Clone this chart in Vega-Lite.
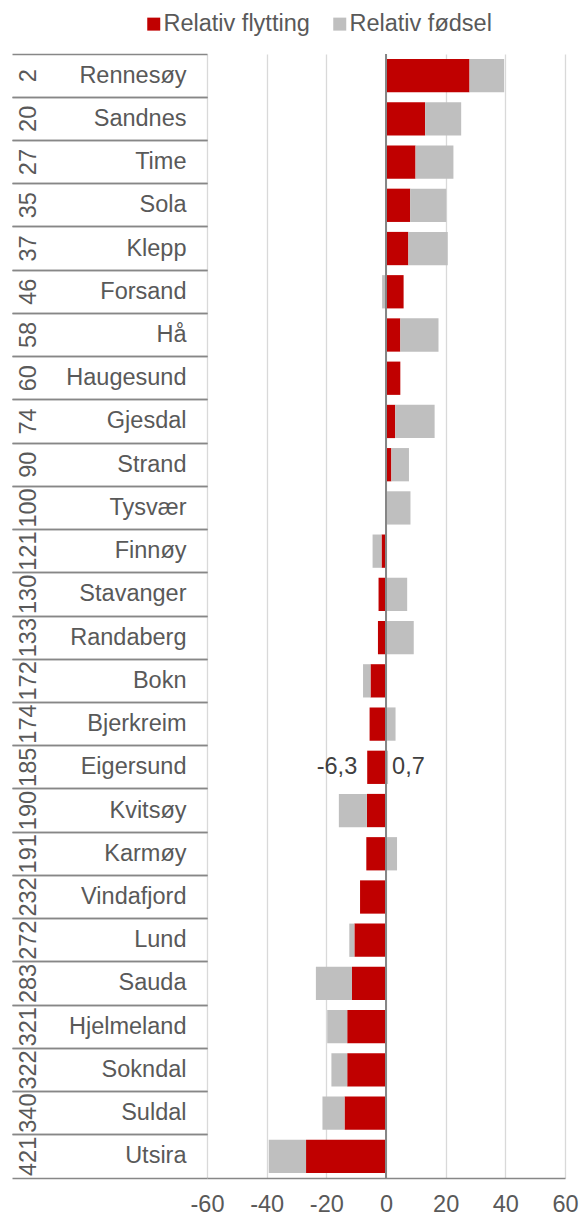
{
  "$schema": "https://vega.github.io/schema/vega-lite/v6.json",
  "autosize": {"type": "none"},
  "width": 358,
  "height": 1124,
  "padding": {"left": 207, "top": 54, "right": 14, "bottom": 38},
  "background": "white",
  "config": {
    "view": {"stroke": null},
    "font": "Liberation Sans",
    "locale": {"number": {"decimal": ",", "thousands": " ", "grouping": [3], "currency": ["", " kr"], "minus": "-"}}
  },
  "data": {"values": [
    {"rank": 2, "name": "Rennesøy", "serie": "Relativ flytting", "value": 28.0},
    {"rank": 2, "name": "Rennesøy", "serie": "Relativ fødsel", "value": 11.6},
    {"rank": 20, "name": "Sandnes", "serie": "Relativ flytting", "value": 13.1},
    {"rank": 20, "name": "Sandnes", "serie": "Relativ fødsel", "value": 12.1},
    {"rank": 27, "name": "Time", "serie": "Relativ flytting", "value": 9.9},
    {"rank": 27, "name": "Time", "serie": "Relativ fødsel", "value": 12.7},
    {"rank": 35, "name": "Sola", "serie": "Relativ flytting", "value": 8.1},
    {"rank": 35, "name": "Sola", "serie": "Relativ fødsel", "value": 12.1},
    {"rank": 37, "name": "Klepp", "serie": "Relativ flytting", "value": 7.5},
    {"rank": 37, "name": "Klepp", "serie": "Relativ fødsel", "value": 13.2},
    {"rank": 46, "name": "Forsand", "serie": "Relativ flytting", "value": 5.9},
    {"rank": 46, "name": "Forsand", "serie": "Relativ fødsel", "value": -1.3},
    {"rank": 58, "name": "Hå", "serie": "Relativ flytting", "value": 4.8},
    {"rank": 58, "name": "Hå", "serie": "Relativ fødsel", "value": 12.8},
    {"rank": 60, "name": "Haugesund", "serie": "Relativ flytting", "value": 4.8},
    {"rank": 60, "name": "Haugesund", "serie": "Relativ fødsel", "value": 0.0},
    {"rank": 74, "name": "Gjesdal", "serie": "Relativ flytting", "value": 3.1},
    {"rank": 74, "name": "Gjesdal", "serie": "Relativ fødsel", "value": 13.2},
    {"rank": 90, "name": "Strand", "serie": "Relativ flytting", "value": 1.8},
    {"rank": 90, "name": "Strand", "serie": "Relativ fødsel", "value": 5.9},
    {"rank": 100, "name": "Tysvær", "serie": "Relativ flytting", "value": 0.1},
    {"rank": 100, "name": "Tysvær", "serie": "Relativ fødsel", "value": 8.1},
    {"rank": 121, "name": "Finnøy", "serie": "Relativ flytting", "value": -1.5},
    {"rank": 121, "name": "Finnøy", "serie": "Relativ fødsel", "value": -3.0},
    {"rank": 130, "name": "Stavanger", "serie": "Relativ flytting", "value": -2.5},
    {"rank": 130, "name": "Stavanger", "serie": "Relativ fødsel", "value": 7.1},
    {"rank": 133, "name": "Randaberg", "serie": "Relativ flytting", "value": -2.7},
    {"rank": 133, "name": "Randaberg", "serie": "Relativ fødsel", "value": 9.3},
    {"rank": 172, "name": "Bokn", "serie": "Relativ flytting", "value": -5.2},
    {"rank": 172, "name": "Bokn", "serie": "Relativ fødsel", "value": -2.5},
    {"rank": 174, "name": "Bjerkreim", "serie": "Relativ flytting", "value": -5.5},
    {"rank": 174, "name": "Bjerkreim", "serie": "Relativ fødsel", "value": 3.2},
    {"rank": 185, "name": "Eigersund", "serie": "Relativ flytting", "value": -6.3},
    {"rank": 185, "name": "Eigersund", "serie": "Relativ fødsel", "value": 0.7},
    {"rank": 190, "name": "Kvitsøy", "serie": "Relativ flytting", "value": -6.4},
    {"rank": 190, "name": "Kvitsøy", "serie": "Relativ fødsel", "value": -9.4},
    {"rank": 191, "name": "Karmøy", "serie": "Relativ flytting", "value": -6.6},
    {"rank": 191, "name": "Karmøy", "serie": "Relativ fødsel", "value": 3.7},
    {"rank": 232, "name": "Vindafjord", "serie": "Relativ flytting", "value": -8.7},
    {"rank": 232, "name": "Vindafjord", "serie": "Relativ fødsel", "value": 0.0},
    {"rank": 272, "name": "Lund", "serie": "Relativ flytting", "value": -10.6},
    {"rank": 272, "name": "Lund", "serie": "Relativ fødsel", "value": -1.7},
    {"rank": 283, "name": "Sauda", "serie": "Relativ flytting", "value": -11.4},
    {"rank": 283, "name": "Sauda", "serie": "Relativ fødsel", "value": -12.1},
    {"rank": 321, "name": "Hjelmeland", "serie": "Relativ flytting", "value": -13.0},
    {"rank": 321, "name": "Hjelmeland", "serie": "Relativ fødsel", "value": -6.7},
    {"rank": 322, "name": "Sokndal", "serie": "Relativ flytting", "value": -13.0},
    {"rank": 322, "name": "Sokndal", "serie": "Relativ fødsel", "value": -5.3},
    {"rank": 340, "name": "Suldal", "serie": "Relativ flytting", "value": -13.9},
    {"rank": 340, "name": "Suldal", "serie": "Relativ fødsel", "value": -7.4},
    {"rank": 421, "name": "Utsira", "serie": "Relativ flytting", "value": -26.8},
    {"rank": 421, "name": "Utsira", "serie": "Relativ fødsel", "value": -12.5}
  ]},
  "layer": [
    {
      "layer": [
        {
          "mark": {"type": "bar", "height": {"band": 0.77}},
          "encoding": {
            "y": {
              "field": "name", "type": "nominal",
              "sort": {"field": "rank", "op": "min", "order": "ascending"},
              "scale": {"paddingInner": 0, "paddingOuter": 0},
              "axis": {
                "orient": "left", "title": null, "domain": false, "grid": false,
                "ticks": true, "tickColor": "#878787", "tickWidth": 1.3, "tickSize": 195,
                "bandPosition": 0,
                "labelPadding": -174, "labelAlign": "right", "labelBaseline": "middle",
                "labelFontSize": 23.5, "labelColor": "#595959", "labelLimit": 300,
                "labelOverlap": false, "labelBound": false
              }
            },
            "x": {
              "field": "value", "type": "quantitative", "stack": "zero",
              "scale": {"domain": [-60, 60], "nice": false},
              "axis": {
                "orient": "bottom", "title": null, "values": [-60, -40, -20, 0, 20, 40, 60],
                "format": "d", "grid": true, "gridColor": "#D9D9D9", "gridWidth": 1.3,
                "domain": true, "domainColor": "#878787", "domainWidth": 1.3,
                "ticks": false, "labelPadding": 14, "labelFontSize": 23.5,
                "labelColor": "#595959", "labelFlush": false
              }
            },
            "color": {
              "field": "serie", "type": "nominal",
              "scale": {"domain": ["Relativ flytting", "Relativ fødsel"], "range": ["#C00000", "#BFBFBF"]},
              "legend": {
                "orient": "none", "legendX": -65, "legendY": -42, "direction": "horizontal",
                "title": null, "symbolType": "square", "symbolSize": 169, "symbolStrokeWidth": 0,
                "labelFontSize": 23.5, "labelColor": "#595959", "columnPadding": 18,
                "labelOffset": -2, "padding": 0, "labelLimit": 300
              }
            },
            "order": {"field": "serie", "sort": "ascending"}
          }
        },
        {
          "mark": {"type": "rule", "color": "#868686", "strokeWidth": 2},
          "encoding": {"x": {"datum": 0, "type": "quantitative"}}
        },
        {
          "transform": [{"filter": "datum.name === 'Eigersund' && datum.serie === 'Relativ flytting'"}],
          "mark": {"type": "text", "align": "right", "baseline": "middle", "dx": -10, "fontSize": 23.5, "color": "#404040"},
          "encoding": {
            "y": {"field": "name", "type": "nominal", "sort": {"field": "rank", "op": "min", "order": "ascending"}, "axis": null},
            "x": {"field": "value", "type": "quantitative", "stack": null},
            "text": {"field": "value", "type": "quantitative", "format": ".1f"}
          }
        },
        {
          "transform": [{"filter": "datum.name === 'Eigersund' && datum.serie === 'Relativ fødsel'"}],
          "mark": {"type": "text", "align": "left", "baseline": "middle", "dx": 4, "fontSize": 23.5, "color": "#404040"},
          "encoding": {
            "y": {"field": "name", "type": "nominal", "sort": {"field": "rank", "op": "min", "order": "ascending"}, "axis": null},
            "x": {"field": "value", "type": "quantitative", "stack": null},
            "text": {"field": "value", "type": "quantitative", "format": ".1f"}
          }
        },
        {
          "mark": {"type": "text", "text": "", "opacity": 0},
          "encoding": {
            "y": {
              "field": "name", "type": "nominal",
              "sort": {"field": "rank", "op": "min", "order": "ascending"},
              "axis": {
                "orient": "left", "title": null, "domain": false, "grid": false, "labels": false,
                "ticks": true, "tickColor": "#878787", "tickWidth": 1.3, "tickSize": 195,
                "bandPosition": 1
              }
            },
            "x": {"datum": 0, "type": "quantitative"}
          }
        }
      ],
      "resolve": {"axis": {"y": "independent"}}
    },
    {
      "mark": {"type": "text", "text": "", "opacity": 0},
      "encoding": {
        "y": {
          "field": "rank", "type": "ordinal", "sort": "ascending",
          "scale": {"type": "band", "paddingInner": 0, "paddingOuter": 0},
          "axis": {
            "orient": "left", "offset": 146, "title": null, "domain": false,
            "grid": false, "ticks": false,
            "labelAngle": 270, "labelAlign": "center", "labelBaseline": "middle",
            "labelPadding": 33, "labelFontSize": 23.5, "labelColor": "#595959",
            "labelOverlap": false, "labelBound": false
          }
        },
        "x": {"datum": 0, "type": "quantitative"}
      }
    }
  ],
  "resolve": {"scale": {"y": "independent"}, "axis": {"y": "independent"}}
}
